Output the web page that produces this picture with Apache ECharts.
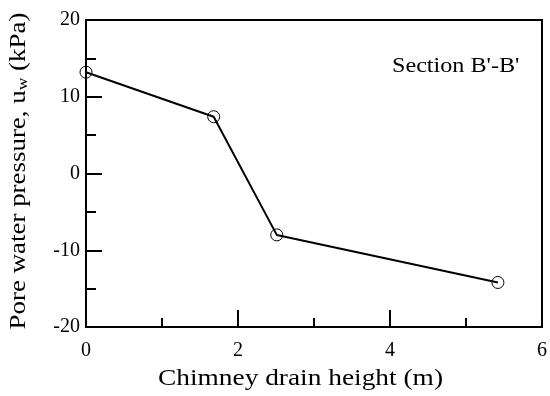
<!DOCTYPE html>
<html><head><meta charset="utf-8">
<script src="https://cdn.jsdelivr.net/npm/echarts@6/dist/echarts.min.js"></script>
<style>html,body{margin:0;padding:0;background:#fff}#c{width:550px;height:396px}</style>
</head><body><div id="c"></div>
<script>
var heights = [0, 1.68, 2.51, 5.42];
var pressures = [13.2, 7.4, -8.0, -14.2];
var xTicks = [0, 2, 4, 6];
var yTicks = [-20, -10, 0, 10, 20];
var xName = 'Chimney drain height (m)';
var yName = '{a|Pore water pressure, u}{s|w}{a| (kPa)}';
var sectionLabel = "Section B'-B'";

var font = '"Liberation Serif","Times New Roman",serif';
var chart = echarts.init(document.getElementById('c'));
chart.setOption({
  animation: false,
  backgroundColor: '#fff',
  grid: {left: 86, right: 8, top: 20, bottom: 69, show: true, borderColor: '#000', borderWidth: 2, backgroundColor: 'transparent'},
  xAxis: {
    type: 'value', min: xTicks[0], max: xTicks[xTicks.length - 1], interval: xTicks[1] - xTicks[0],
    axisLine: {onZero: false, lineStyle: {color: '#000', width: 2}},
    axisTick: {inside: true, length: 17, lineStyle: {color: '#000', width: 2}},
    minorTick: {show: true, splitNumber: 2, length: 9, lineStyle: {color: '#000', width: 2}},
    axisLabel: {fontFamily: font, fontSize: 20, color: '#000', margin: 14},
    splitLine: {show: false}
  },
  yAxis: {
    type: 'value', min: yTicks[0], max: yTicks[yTicks.length - 1], interval: yTicks[1] - yTicks[0],
    axisLine: {onZero: false, lineStyle: {color: '#000', width: 2}},
    axisTick: {inside: true, length: 16, lineStyle: {color: '#000', width: 2}},
    minorTick: {show: true, splitNumber: 2, length: 10, lineStyle: {color: '#000', width: 2}},
    axisLabel: {fontFamily: font, fontSize: 20, color: '#000', margin: 6},
    splitLine: {show: false}
  },
  graphic: [
    {type: 'text', x: 300.5, y: 379, scaleX: 1.19,
      style: {text: xName, font: '23px ' + font, fill: '#000', align: 'center', verticalAlign: 'middle'}},
    {type: 'text', x: 19, y: 171, rotation: Math.PI / 2, scaleX: 1.17,
      style: {text: yName, align: 'center', verticalAlign: 'middle', fill: '#000',
        rich: {a: {font: '23px ' + font, fill: '#000', lineHeight: 24},
               s: {font: '15px ' + font, fill: '#000', lineHeight: 24, verticalAlign: 'bottom', padding: [10, 0, 0, 0]}}}},
    {type: 'text', x: 392, y: 66, scaleX: 1.15,
      style: {text: sectionLabel, font: '21px ' + font, fill: '#000', align: 'left', verticalAlign: 'middle'}}
  ],
  series: [{
    type: 'line',
    data: heights.map(function (h, i) { return [h, pressures[i]]; }),
    symbol: 'circle', symbolSize: 12,
    lineStyle: {color: '#000', width: 2},
    itemStyle: {color: 'rgba(255,255,255,0)', borderColor: '#000', borderWidth: 1},
    clip: false
  }]
});
</script></body></html>
